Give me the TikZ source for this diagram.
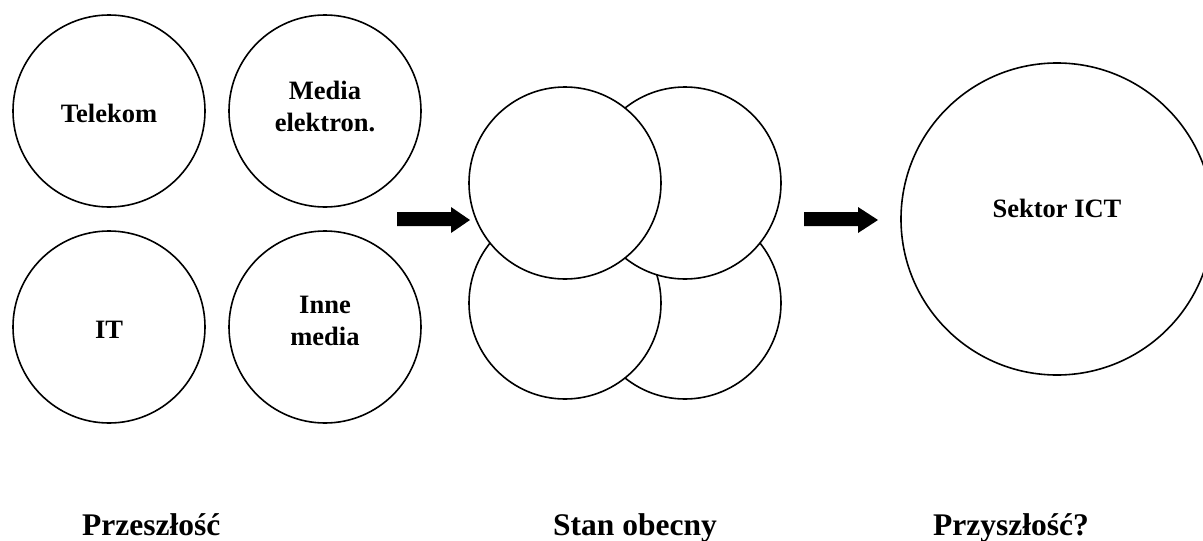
\documentclass[tikz,border=0pt]{standalone}
\usepackage{fontspec}
\setmainfont{Liberation Serif}
\begin{document}
\begin{tikzpicture}[x=1pt,y=-1pt,
  circ/.style={circle, draw=black, line width=1.6pt, fill=white, minimum size=192pt, inner sep=0pt},
  bigcirc/.style={circle, draw=black, line width=1.6pt, fill=white, minimum size=312pt, inner sep=0pt},
  lbl/.style={inner sep=0pt, align=center, font=\bfseries\fontsize{26.5}{32}\selectfont},
  title/.style={inner sep=0pt, anchor=base west, font=\bfseries\fontsize{31.5}{36}\selectfont},
  blockarrow/.style={fill=black}]
\useasboundingbox (0,0) rectangle (1203,541);
\clip (0,0) rectangle (1203,541);
% past
\node[circ] (tel) at (109,111) {};
\node[circ] (med) at (325,111) {};
\node[circ] (it) at (109,327) {};
\node[circ] (inne) at (325,327) {};
\node[lbl, anchor=base] (telt) at (109,122) {Telekom};
\node[lbl, anchor=north] (medt) at (325,81) {Media\\elektron.};
\node[lbl, anchor=base] (itt) at (109,338) {IT};
\node[lbl, anchor=north] (innet) at (325,296) {Inne\\media};
% present
\node[circ] (br) at (685,303) {};
\node[circ] (bl) at (565,303) {};
\node[circ] (tr) at (685,183) {};
\node[circ] (tl) at (565,183) {};
% future
\node[bigcirc] (ict) at (1057,219) {};
\node[lbl, anchor=base] (ictt) at (1057,217) {Sektor ICT};
% arrows
\fill[blockarrow] (397,212) -- (451,212) -- (451,207) -- (470,220) -- (451,233) -- (451,226) -- (397,226) -- cycle;
\fill[blockarrow] (804,212) -- (858,212) -- (858,207) -- (878,220) -- (858,233) -- (858,226) -- (804,226) -- cycle;
% titles
\node[title] (t1) at (82,535) {Przeszłość};
\node[title] (t2) at (553,535) {Stan obecny};
\node[title] (t3) at (933,535) {Przyszłość?};
\end{tikzpicture}
\end{document}
